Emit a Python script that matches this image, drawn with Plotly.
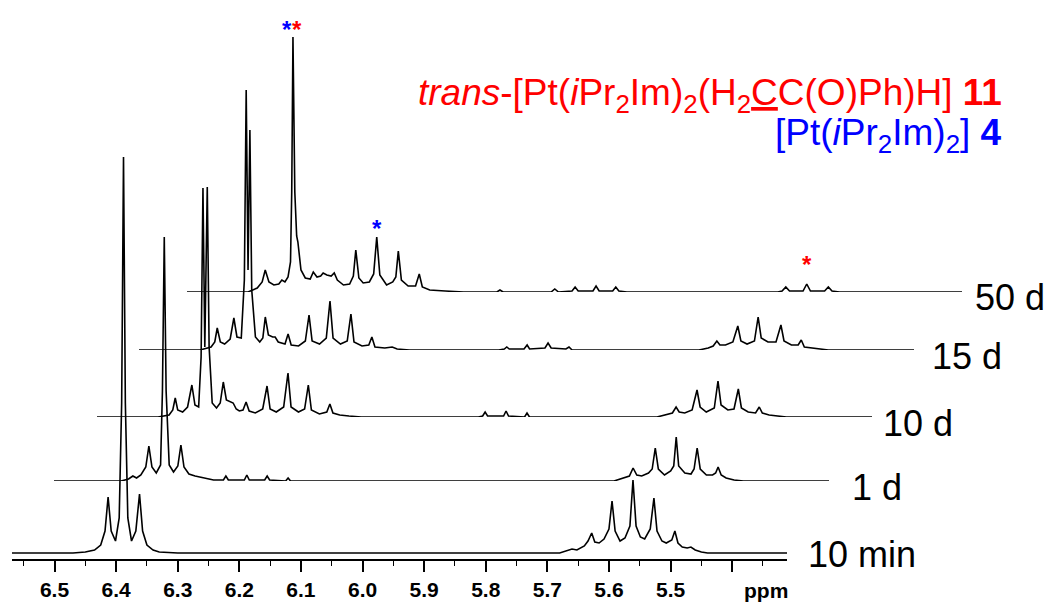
import plotly.graph_objects as go

# ---------------- data (ppm, intensity) ----------------
spec_10min = [(6.569, 0), (6.470, 0), (6.450, 1), (6.435, 3), (6.425, 8), (6.418, 22), (6.413, 56),
              (6.408, 22), (6.401, 12), (6.395, 35), (6.391, 150), (6.388, 396), (6.385, 150),
              (6.381, 35), (6.375, 12), (6.368, 22), (6.362, 59), (6.357, 22), (6.350, 8),
              (6.340, 3), (6.330, 1), (6.300, 0),
              (5.680, 0), (5.665, 3), (5.660, 4), (5.652, 3), (5.640, 7), (5.634, 12), (5.628, 20),
              (5.623, 11), (5.616, 10), (5.608, 14), (5.600, 24), (5.595, 52), (5.590, 22),
              (5.582, 12), (5.574, 15), (5.566, 27), (5.561, 73), (5.556, 27), (5.549, 16),
              (5.542, 14), (5.533, 24), (5.527, 55), (5.522, 22), (5.514, 12), (5.507, 10),
              (5.498, 13), (5.493, 22), (5.488, 10), (5.481, 6), (5.473, 5), (5.467, 6),
              (5.460, 3), (5.450, 1), (5.440, 0), (5.311, 0)]

spec_1d = [(6.569, 0), (6.460, 0), (6.448, 2), (6.441, 5), (6.435, 3), (6.428, 6), (6.420, 14),
           (6.415, 35), (6.410, 14), (6.403, 8), (6.396, 16), (6.393, 90), (6.390, 244), (6.387, 90),
           (6.382, 16), (6.375, 9), (6.368, 15), (6.363, 36), (6.358, 14), (6.350, 7), (6.340, 5),
           (6.325, 3), (6.310, 1), (6.294, 1), (6.290, 5), (6.286, 1), (6.260, 1), (6.256, 6),
           (6.252, 1), (6.227, 1), (6.223, 5), (6.219, 1), (6.193, 0), (6.189, 3), (6.185, 0),
           (5.660, 0), (5.645, 3), (5.635, 5), (5.629, 13), (5.623, 6), (5.615, 5), (5.604, 8),
           (5.598, 12), (5.593, 33), (5.588, 12), (5.578, 6), (5.568, 10), (5.563, 15), (5.559, 44),
           (5.555, 15), (5.545, 8), (5.535, 7), (5.530, 12), (5.525, 33), (5.520, 12), (5.510, 6),
           (5.500, 6), (5.495, 8), (5.491, 14), (5.486, 6), (5.478, 3), (5.465, 1), (5.450, 0),
           (5.311, 0)]

spec_10d = [(6.569, 0), (6.470, 0), (6.452, 2), (6.446, 7), (6.442, 19), (6.438, 7), (6.430, 5),
            (6.422, 10), (6.415, 32), (6.410, 12), (6.404, 10), (6.400, 60), (6.397, 229),
            (6.394, 70), (6.390, 230), (6.387, 70), (6.382, 14), (6.375, 9), (6.369, 14),
            (6.364, 35), (6.359, 17), (6.352, 15), (6.348, 14), (6.343, 8), (6.338, 6), (6.332, 7),
            (6.327, 15), (6.322, 6), (6.312, 4), (6.300, 8), (6.293, 31), (6.288, 8), (6.278, 5),
            (6.266, 10), (6.259, 44), (6.254, 10), (6.242, 5), (6.232, 8), (6.226, 32), (6.221, 7),
            (6.208, 3), (6.196, 5), (6.191, 13), (6.186, 4), (6.175, 2), (6.160, 1), (6.140, 0),
            (5.950, 0), (5.943, 1), (5.939, 5), (5.935, 1), (5.909, 1), (5.905, 6), (5.901, 1),
            (5.875, 0), (5.871, 4), (5.867, 0),
            (5.660, 0), (5.645, 2), (5.635, 4), (5.629, 10), (5.624, 5), (5.615, 4), (5.603, 7),
            (5.595, 27), (5.590, 10), (5.580, 5), (5.567, 9), (5.561, 36), (5.556, 12), (5.545, 7),
            (5.535, 8), (5.528, 28), (5.523, 9), (5.512, 5), (5.500, 4), (5.494, 10), (5.489, 4),
            (5.478, 2), (5.465, 1), (5.450, 0), (5.311, 0)]

spec_15d = [(6.569, 0), (6.470, 0), (6.452, 3), (6.446, 8), (6.442, 22), (6.437, 8), (6.430, 6),
            (6.421, 11), (6.415, 32), (6.410, 13), (6.403, 12), (6.398, 70), (6.395, 260),
            (6.392, 80), (6.389, 220), (6.386, 60), (6.380, 13), (6.373, 8), (6.368, 12),
            (6.364, 33), (6.359, 15), (6.352, 13), (6.348, 13), (6.343, 8), (6.332, 6), (6.327, 16),
            (6.322, 5), (6.310, 4), (6.299, 9), (6.293, 35), (6.288, 9), (6.276, 6), (6.265, 12),
            (6.259, 49), (6.254, 12), (6.242, 6), (6.231, 9), (6.225, 36), (6.220, 8), (6.207, 4),
            (6.196, 5), (6.191, 13), (6.186, 3), (6.170, 2), (6.158, 3), (6.150, 1), (6.130, 0),
            (5.985, 0), (5.976, 1), (5.972, 3), (5.968, 1), (5.944, 1), (5.939, 5), (5.935, 1),
            (5.910, 2), (5.905, 7), (5.900, 2), (5.876, 1), (5.871, 3), (5.866, 0),
            (5.660, 0), (5.645, 2), (5.637, 4), (5.631, 9), (5.626, 5), (5.617, 5), (5.605, 8),
            (5.597, 24), (5.592, 9), (5.582, 6), (5.570, 9), (5.564, 33), (5.559, 12), (5.548, 8),
            (5.535, 8), (5.527, 25), (5.522, 9), (5.510, 5), (5.499, 5), (5.494, 10), (5.489, 3),
            (5.478, 2), (5.462, 1), (5.450, 0), (5.311, 0)]

spec_50d = [(6.569, 0), (6.470, 0), (6.455, 4), (6.447, 10), (6.442, 22), (6.436, 10), (6.428, 7),
            (6.420, 8), (6.415, 12), (6.410, 10), (6.405, 15), (6.401, 30), (6.399, 100),
            (6.397, 255), (6.394, 100), (6.391, 56), (6.389, 50), (6.384, 22), (6.377, 14),
            (6.369, 13), (6.364, 20), (6.358, 15), (6.352, 16), (6.348, 19), (6.342, 17),
            (6.335, 16), (6.330, 19), (6.325, 12), (6.315, 7), (6.305, 8), (6.299, 16), (6.295, 42),
            (6.290, 14), (6.283, 9), (6.273, 10), (6.266, 18), (6.261, 55), (6.256, 17), (6.245, 7),
            (6.235, 10), (6.230, 15), (6.226, 41), (6.221, 12), (6.210, 6), (6.198, 6), (6.192, 18),
            (6.187, 5), (6.175, 2), (6.150, 1), (6.120, 0),
            (6.066, 0), (6.061, 2), (6.056, 0), (5.978, 0), (5.972, 3), (5.966, 0), (5.944, 1),
            (5.939, 5), (5.934, 1), (5.910, 1), (5.905, 6), (5.900, 1), (5.878, 1), (5.873, 5),
            (5.868, 1), (5.855, 0), (5.610, 0), (5.603, 1), (5.597, 5), (5.591, 1), (5.569, 1),
            (5.563, 8), (5.557, 1), (5.534, 1), (5.528, 5), (5.522, 1), (5.510, 0), (5.311, 0)]

spectra = [spec_10min, spec_1d, spec_10d, spec_15d, spec_50d]
spectrum_labels = ["10 min", "1 d", "10 d", "15 d", "50 d"]

major_ticks = [6.5, 6.4, 6.3, 6.2, 6.1, 6.0, 5.9, 5.8, 5.7, 5.6, 5.5, 5.4]
major_labels = ["6.5", "6.4", "6.3", "6.2", "6.1", "6.0", "5.9", "5.8", "5.7", "5.6", "5.5", " "]
minor_ticks = [6.55, 6.45, 6.35, 6.25, 6.15, 6.05, 5.95, 5.85, 5.75, 5.65, 5.55, 5.45, 5.35]
axis_unit = "ppm"

# star markers: (spectrum index, ppm, intensity, colour)
stars = [(4, 6.407, 269, "blue"), (4, 6.390, 269, "red"),
         (4, 6.261, 70, "blue"), (4, 5.563, 34, "red")]

legend_red = ("<i>trans</i>-[Pt(<i>i</i>Pr<sub>2</sub>Im)<sub>2</sub>(H<sub>2</sub>"
              "<span style='text-decoration:underline'>C</span>C(O)Ph)H] <b>11</b>")
legend_blue = "[Pt(<i>i</i>Pr<sub>2</sub>Im)<sub>2</sub>] <b>4</b>"

# ---------------- layout geometry (pixels) ----------------
W, H = 1052, 602
FONT = "Liberation Sans, Arial, sans-serif"
X0, X1 = 12, 787
AX_Y = 559
ppm_range = [6.569, 5.311]
offsets_px = [0, 42, 85, 127, 175]
baseline_px = [553, 481, 417, 350, 292]
label_x_px = [806, 850, 881, 930, 973]
label_y_px = [554, 487, 423, 356, 297]

fig = go.Figure()
layout_axes = {}
for k, spec in enumerate(spectra):
    sfx = "" if k == 0 else str(k + 1)
    xs = [p for p, _ in spec]
    ys = [v for _, v in spec]
    fig.add_trace(go.Scatter(x=xs, y=ys, mode="lines", line=dict(color="black", width=1.6),
                             xaxis="x" + sfx, yaxis="y" + sfx, showlegend=False,
                             hoverinfo="skip"))
    off = offsets_px[k]
    base = baseline_px[k]
    xdom = [(X0 + off) / W, (X1 + off) / W]
    if k == 0:
        ydom = [(H - AX_Y) / H, 1]
        yrng = [-(AX_Y - base), base]
        layout_axes["xaxis"] = dict(
            domain=xdom, range=ppm_range, anchor="y", showgrid=False, zeroline=False,
            automargin=False,
            showline=True, linecolor="black", linewidth=1.5,
            ticks="outside", ticklen=11, tickwidth=1.5, tickcolor="black",
            tickmode="array", tickvals=major_ticks, ticktext=major_labels,
            tickfont=dict(family=FONT, size=21, color="black", weight="bold"),
            minor=dict(tickmode="array", tickvals=minor_ticks, ticks="outside", ticklen=5,
                       tickwidth=1.3, tickcolor="black", showgrid=False),
        )
        layout_axes["yaxis"] = dict(domain=ydom, range=yrng, visible=False, anchor="x",
                                    automargin=False)
    else:
        ydom = [(H - base) / H, 1]
        yrng = [0, base]
        layout_axes["xaxis" + sfx] = dict(domain=xdom, range=ppm_range, visible=False,
                                          anchor="y" + sfx, automargin=False)
        layout_axes["yaxis" + sfx] = dict(domain=ydom, range=yrng, visible=False,
                                          anchor="x" + sfx, automargin=False)

annotations = []
for k, lab in enumerate(spectrum_labels):
    annotations.append(dict(text=lab, xref="paper", yref="paper", x=label_x_px[k] / W,
                            y=1 - label_y_px[k] / H, xanchor="left", yanchor="middle",
                            showarrow=False, font=dict(family=FONT, size=36, color="black")))
annotations.append(dict(text="<b>" + axis_unit + "</b>", xref="paper", yref="paper",
                        x=766 / W, y=1 - 590 / H, xanchor="center", yanchor="middle",
                        showarrow=False, font=dict(family=FONT, size=21, color="black")))
for k, p, v, c in stars:
    sfx = "" if k == 0 else str(k + 1)
    annotations.append(dict(text="<b>*</b>", xref="x" + sfx, yref="y" + sfx, x=p, y=v,
                            xanchor="center", yanchor="middle", yshift=-6, showarrow=False,
                            font=dict(family=FONT, size=24, color=c)))
annotations.append(dict(text=legend_red, xref="paper", yref="paper", x=1004 / W, y=1 - 95 / H,
                        xanchor="right", yanchor="middle", showarrow=False,
                        font=dict(family=FONT, size=37, color="red")))
annotations.append(dict(text=legend_blue, xref="paper", yref="paper", x=1004 / W,
                        y=1 - 135 / H, xanchor="right", yanchor="middle", showarrow=False,
                        font=dict(family=FONT, size=37, color="blue")))

fig.update_layout(width=W, height=H, autosize=False, margin=dict(l=0, r=0, t=0, b=0),
                  paper_bgcolor="white", plot_bgcolor="rgba(0,0,0,0)",
                  annotations=annotations, **layout_axes)
fig.write_html("out.html", config={"displayModeBar": False},
               post_script="document.body.style.margin='0px';document.body.style.overflow='hidden';")
